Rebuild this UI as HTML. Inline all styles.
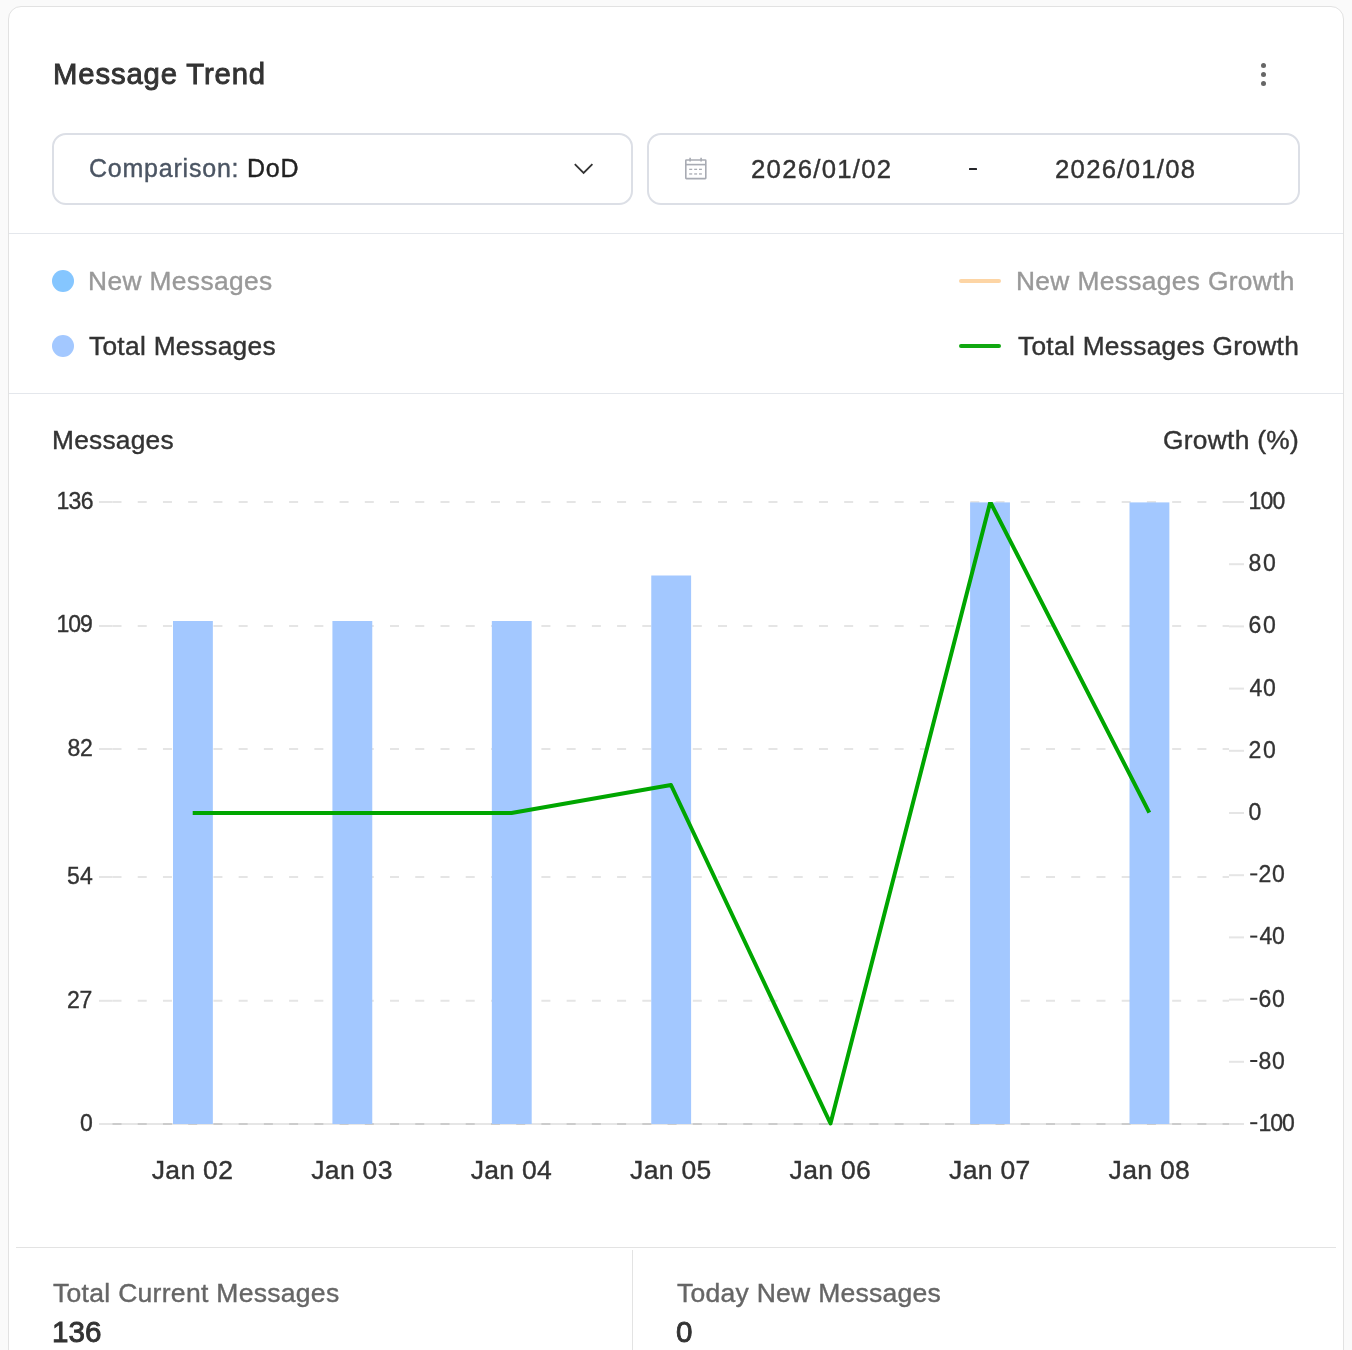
<!DOCTYPE html>
<html>
<head>
<meta charset="utf-8">
<style>
html,body{margin:0;padding:0;}
body{width:1352px;height:1350px;background:#fafafa;position:relative;overflow:hidden;font-family:"Liberation Sans",sans-serif;color:#333;}
.card{position:absolute;left:8px;top:6px;width:1334px;height:1400px;background:#fff;border:1px solid #e2e2e2;border-radius:13px;}
.t{position:absolute;white-space:nowrap;line-height:1;will-change:transform;-webkit-text-stroke:0.4px currentColor;}
.b{-webkit-text-stroke:0;}
.box{position:absolute;top:133px;height:68px;border:2px solid #dcdfe6;border-radius:14px;background:#fff;}
.hr{position:absolute;left:9px;width:1334px;height:1px;background:#e4e7ec;}
.dot{position:absolute;width:22px;height:22px;border-radius:50%;}
.ln{position:absolute;width:42px;height:4px;border-radius:2px;}
</style>
</head>
<body>
<div class="card"></div>

<!-- header -->
<div class="t" style="left:53.4px;top:59.3px;font-size:29.3px;letter-spacing:0.85px;-webkit-text-stroke:0.9px #333;color:#333;">Message Trend</div>
<svg style="position:absolute;left:1255px;top:58px" width="17" height="33" viewBox="0 0 17 33">
  <circle cx="8.5" cy="7.5" r="2.5" fill="#666"/>
  <circle cx="8.5" cy="16.6" r="2.5" fill="#666"/>
  <circle cx="8.5" cy="25.6" r="2.5" fill="#666"/>
</svg>

<!-- comparison select -->
<div class="box" style="left:52px;width:577px;"></div>
<div class="t" style="left:88.7px;top:155.9px;font-size:25px;letter-spacing:0.78px;"><span style="color:#4b5563">Comparison: </span><span style="color:#222">DoD</span></div>
<svg style="position:absolute;left:570px;top:158px" width="28" height="22" viewBox="570 158 28 22">
  <polyline points="574.8,164.1 583.6,172.9 592.4,164.1" fill="none" stroke="#333" stroke-width="1.8"/>
</svg>

<!-- date range -->
<div class="box" style="left:647px;width:649px;"></div>
<svg style="position:absolute;left:680px;top:152px" width="32" height="32" viewBox="680 152 32 32">
  <g fill="none" stroke="#a8abb3" stroke-width="1.6">
    <rect x="685.8" y="160" width="20" height="18.6" rx="0.6"/>
    <line x1="685.8" y1="164.6" x2="705.8" y2="164.6"/>
    <line x1="690.1" y1="157.8" x2="690.1" y2="161.6"/>
    <line x1="701.1" y1="157.8" x2="701.1" y2="161.6"/>
  </g>
  <g fill="#a8abb3">
    <rect x="689.2" y="168.7" width="3" height="1.3"/><rect x="694.2" y="168.7" width="2.9" height="1.3"/><rect x="699" y="168.7" width="2.9" height="1.3"/>
    <rect x="689.2" y="173.3" width="3" height="1.3"/><rect x="694.2" y="173.3" width="2.9" height="1.3"/><rect x="699" y="173.3" width="2.9" height="1.3"/>
  </g>
</svg>
<div class="t" style="left:751px;top:156.5px;font-size:25.7px;letter-spacing:1.28px;color:#333;">2026/01/02</div>
<div style="position:absolute;left:969.3px;top:168.2px;width:7.8px;height:1.9px;background:#25262a;border-radius:0.5px"></div>
<div class="t" style="left:1055px;top:156.5px;font-size:25.7px;letter-spacing:1.28px;color:#333;">2026/01/08</div>

<div class="hr" style="top:233px"></div>

<!-- legend -->
<div class="dot" style="left:52px;top:270px;background:#85c6ff"></div>
<div class="t" style="left:87.5px;top:267.9px;font-size:26.3px;letter-spacing:0.4px;color:#999;">New Messages</div>
<div class="dot" style="left:52px;top:335px;background:#a3c8ff"></div>
<div class="t" style="left:89px;top:332.7px;font-size:26.3px;letter-spacing:0.3px;color:#333;">Total Messages</div>

<div class="ln" style="left:959px;top:279px;background:#fdd5a5"></div>
<div class="t" style="left:1016px;top:267.9px;font-size:26.3px;letter-spacing:0.37px;color:#999;">New Messages Growth</div>
<div class="ln" style="left:959px;top:344px;background:#11a811"></div>
<div class="t" style="left:1018px;top:332.7px;font-size:26.3px;letter-spacing:0.3px;color:#333;">Total Messages Growth</div>

<div class="hr" style="top:393px"></div>

<!-- axis titles -->
<div class="t" style="left:52px;top:426.7px;font-size:26.3px;letter-spacing:0.25px;color:#333;">Messages</div>
<div class="t" style="left:1163px;top:426.7px;font-size:26.3px;letter-spacing:0.3px;color:#333;">Growth (%)</div>

<!-- chart -->
<svg style="position:absolute;left:0;top:0" width="1352" height="1350" viewBox="0 0 1352 1350">
  <defs>
    <clipPath id="plot"><rect x="112.5" y="502" width="1117" height="640"/></clipPath>
  </defs>
  <!-- x axis line -->
  <line x1="99" y1="1124" x2="1244" y2="1124" stroke="#e6e6e6" stroke-width="2"/>
  <!-- gridlines -->
  <g stroke="#e5e5e5" stroke-width="2" stroke-dasharray="9 16.23">
    <line x1="112.5" y1="502" x2="1229" y2="502"/>
    <line x1="112.5" y1="626" x2="1229" y2="626"/>
    <line x1="112.5" y1="749" x2="1229" y2="749"/>
    <line x1="112.5" y1="877" x2="1229" y2="877"/>
    <line x1="112.5" y1="1000.8" x2="1229" y2="1000.8"/>
  </g>
  <line x1="112.5" y1="1124" x2="1229" y2="1124" stroke="#cccccc" stroke-width="2" stroke-dasharray="9 16.23"/>
  <!-- left ticks -->
  <g stroke="#e5e5e5" stroke-width="2">
    <line x1="99" y1="502" x2="112.5" y2="502"/>
    <line x1="99" y1="626" x2="112.5" y2="626"/>
    <line x1="99" y1="749" x2="112.5" y2="749"/>
    <line x1="99" y1="877" x2="112.5" y2="877"/>
    <line x1="99" y1="1000.8" x2="112.5" y2="1000.8"/>
  </g>
  <!-- right ticks -->
  <g stroke="#e5e5e5" stroke-width="2">
    <line x1="1229" y1="502" x2="1244" y2="502"/>
    <line x1="1229" y1="564.2" x2="1244" y2="564.2"/>
    <line x1="1229" y1="626.4" x2="1244" y2="626.4"/>
    <line x1="1229" y1="688.6" x2="1244" y2="688.6"/>
    <line x1="1229" y1="750.8" x2="1244" y2="750.8"/>
    <line x1="1229" y1="813" x2="1244" y2="813"/>
    <line x1="1229" y1="875.2" x2="1244" y2="875.2"/>
    <line x1="1229" y1="937.4" x2="1244" y2="937.4"/>
    <line x1="1229" y1="999.6" x2="1244" y2="999.6"/>
    <line x1="1229" y1="1061.8" x2="1244" y2="1061.8"/>
    <line x1="1229" y1="1124" x2="1244" y2="1124"/>
  </g>
  <!-- bars -->
  <g fill="#a3c8ff">
    <rect x="173.00" y="621.0" width="39.85" height="503.0"/>
    <rect x="332.42" y="621.0" width="39.85" height="503.0"/>
    <rect x="491.84" y="621.0" width="39.85" height="503.0"/>
    <rect x="651.26" y="575.5" width="39.85" height="548.5"/>
    <rect x="970.10" y="502.4" width="39.85" height="621.6"/>
    <rect x="1129.52" y="502.4" width="39.85" height="621.6"/>
  </g>
  <!-- growth line -->
  <polyline clip-path="url(#plot)" points="192.7,813 352.1,813 511.5,813 671,785 830.5,1123.5 990.3,502 1149.3,812.6" fill="none" stroke="#00a600" stroke-width="4" stroke-linejoin="round"/>
  <!-- left labels -->
  <g font-family="Liberation Sans" font-size="23" fill="#333" stroke="#333" stroke-width="0.35">
    <text x="56.40" y="508.8" textLength="37.10" lengthAdjust="spacing">136</text>
    <text x="56.50" y="632.3" textLength="36.30" lengthAdjust="spacing">109</text>
    <text x="67.40" y="755.8" textLength="25.30" lengthAdjust="spacing">82</text>
    <text x="66.90" y="884.0" textLength="25.80" lengthAdjust="spacing">54</text>
    <text x="67.10" y="1007.5" textLength="25.10" lengthAdjust="spacing">27</text>
    <text x="79.90" y="1131.0" textLength="24.50" lengthAdjust="spacing">0</text>
  </g>
  <!-- right labels -->
  <g font-family="Liberation Sans" font-size="23" fill="#333" stroke="#333" stroke-width="0.35">
    <text x="1248.60" y="508.9" textLength="36.70" lengthAdjust="spacing">100</text>
    <text x="1248.60" y="571.1" textLength="27.10" lengthAdjust="spacing">80</text>
    <text x="1248.60" y="633.3" textLength="27.10" lengthAdjust="spacing">60</text>
    <text x="1249.60" y="695.5" textLength="26.10" lengthAdjust="spacing">40</text>
    <text x="1248.60" y="757.7" textLength="27.10" lengthAdjust="spacing">20</text>
    <text x="1248.60" y="819.9" textLength="20.10" lengthAdjust="spacing">0</text>
    <rect x="1250.2" y="873.40" width="7.1" height="2" stroke="none"/>
    <text x="1258.60" y="882.1" textLength="26.30" lengthAdjust="spacing">20</text>
    <rect x="1250.2" y="935.60" width="7.1" height="2" stroke="none"/>
    <text x="1259.60" y="944.3" textLength="25.30" lengthAdjust="spacing">40</text>
    <rect x="1250.2" y="997.80" width="7.1" height="2" stroke="none"/>
    <text x="1258.60" y="1006.5" textLength="26.30" lengthAdjust="spacing">60</text>
    <rect x="1250.2" y="1060.00" width="7.1" height="2" stroke="none"/>
    <text x="1258.60" y="1068.7" textLength="26.30" lengthAdjust="spacing">80</text>
    <rect x="1250.2" y="1122.20" width="7.1" height="2" stroke="none"/>
    <text x="1258.60" y="1130.9" textLength="36.10" lengthAdjust="spacing">100</text>
  </g>
  <!-- x labels -->
  <g font-family="Liberation Sans" font-size="26.5" fill="#333" stroke="#333" stroke-width="0.4" letter-spacing="0.3" text-anchor="middle">
    <text x="192.5" y="1179">Jan 02</text>
    <text x="352" y="1179">Jan 03</text>
    <text x="511.4" y="1179">Jan 04</text>
    <text x="670.8" y="1179">Jan 05</text>
    <text x="830.3" y="1179">Jan 06</text>
    <text x="989.8" y="1179">Jan 07</text>
    <text x="1149.3" y="1179">Jan 08</text>
  </g>
</svg>

<!-- stats -->
<div style="position:absolute;left:16px;top:1247px;width:1320px;height:1px;background:#e3e3e3"></div>
<div style="position:absolute;left:632px;top:1250px;width:1px;height:120px;background:#e3e3e3"></div>
<div class="t" style="left:53.2px;top:1279.6px;font-size:26.5px;letter-spacing:0.3px;color:#666;">Total Current Messages</div>
<div class="t" style="left:52.2px;top:1317.2px;font-size:29.6px;-webkit-text-stroke:0.9px #333;color:#333;">136</div>
<div class="t" style="left:676.5px;top:1279.6px;font-size:26.5px;letter-spacing:0.27px;color:#666;">Today New Messages</div>
<div class="t" style="left:676.2px;top:1317.2px;font-size:29.6px;-webkit-text-stroke:0.9px #333;color:#333;">0</div>
</body>
</html>
